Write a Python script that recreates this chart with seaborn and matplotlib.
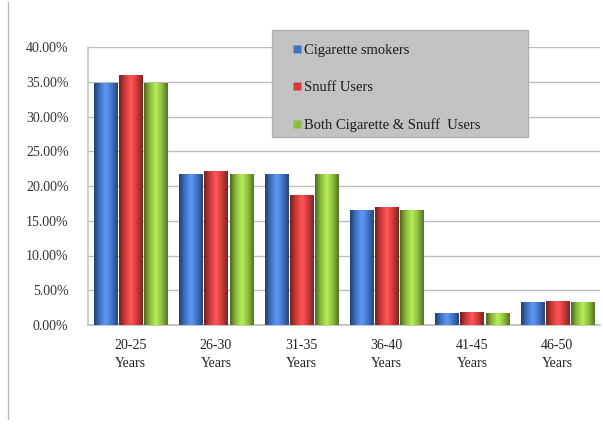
import numpy as np
import pandas as pd
import matplotlib
matplotlib.use("Agg")
import matplotlib.pyplot as plt
import seaborn as sns
from matplotlib.colors import LinearSegmentedColormap, to_rgb
from matplotlib.lines import Line2D
from matplotlib.patches import Rectangle

age_groups = ["20-25\nYears", "26-30\nYears", "31-35\nYears", "36-40\nYears", "41-45\nYears", "46-50\nYears"]
series_names = ["Cigarette smokers", "Snuff Users", "Both Cigarette & Snuff  Users"]
cigarette = [34.8, 21.7, 21.7, 16.5, 1.7, 3.3]
snuff = [36.0, 22.2, 18.7, 17.0, 1.8, 3.4]
both = [34.8, 21.7, 21.7, 16.5, 1.7, 3.3]
y_ticks = [0, 5, 10, 15, 20, 25, 30, 35, 40]

colors = ["#3f73c6", "#cf3a3a", "#8dbd3c"]

df = pd.DataFrame({
    "group": age_groups * 3,
    "series": sum([[s] * len(age_groups) for s in series_names], []),
    "value": [v / 100 for v in cigarette + snuff + both],
})

sns.set_theme(style="white")
plt.rcParams["font.family"] = ["Liberation Serif", "DejaVu Serif"]

W, H = 603, 429
fig = plt.figure(figsize=(W / 100, H / 100), dpi=100)
ax = fig.add_axes([88 / W, (H - 325) / H, 512 / W, (325 - 47) / H])

sns.barplot(data=df, x="group", y="value", hue="series", palette=colors,
            width=0.88, gap=0.08, saturation=1, ax=ax, legend=False,
            edgecolor="none", zorder=3)

# cylinder-like horizontal shading on every bar
for patch in ax.patches:
    x0, y0 = patch.get_x(), patch.get_y()
    w, h = patch.get_width(), patch.get_height()
    if h <= 0:
        continue
    base = np.array(to_rgb(patch.get_facecolor()))
    dark = base * 0.55
    light = np.clip(base * 1.15 + 0.08, 0, 1)
    cmap = LinearSegmentedColormap.from_list(
        "cyl", [dark, base, light, base, dark * 1.1], N=64)
    grad = np.linspace(0, 1, 64).reshape(1, -1)
    im = ax.imshow(grad, cmap=cmap, aspect="auto",
                   extent=[x0, x0 + w, y0, y0 + h], zorder=4)
    im.set_clip_path(patch)

ax.set_xlim(-0.5, len(age_groups) - 0.5)
ax.set_ylim(0, 0.40)
ax.set_yticks([t / 100 for t in y_ticks])
ax.set_yticklabels([f"{t:.2f}%" for t in y_ticks], fontsize=10, color="#333333")
ax.tick_params(axis="x", labelsize=10, labelcolor="#222222", length=0, pad=10)
ax.tick_params(axis="y", length=0, pad=14)
for lbl in ax.get_xticklabels():
    lbl.set_linespacing(1.5)
ax.set_xlabel("")
ax.set_ylabel("")

ax.grid(axis="y", color="#bdbdbd", linewidth=1.0, zorder=0)
ax.set_axisbelow(True)
for side in ["top", "right"]:
    ax.spines[side].set_visible(False)
ax.spines["left"].set_color("#c8c8c8")
ax.spines["bottom"].set_color("#bdbdbd")

# grey legend panel
fig.add_artist(Rectangle((272 / W, 1 - 137 / H), (528 - 272) / W, (137 - 30) / H,
                         transform=fig.transFigure, facecolor="#c2c2c2",
                         edgecolor="#b0b0b0", linewidth=1.0, zorder=9))
handles = [Line2D([0], [0], marker="s", linestyle="", markersize=5.5,
                  markerfacecolor=c, markeredgecolor="none") for c in colors]
leg = fig.legend(handles, series_names, loc="upper left",
                 bbox_to_anchor=(293 / W, 1 - 44 / H),
                 frameon=False, fontsize=10.5, labelspacing=1.65,
                 handlelength=0.6, handletextpad=0.15, borderpad=0,
                 borderaxespad=0)
leg.set_zorder(10)
for t in leg.get_texts():
    t.set_color("#1a1a1a")

# page frame line at the left
fig.add_artist(Line2D([8 / W, 8 / W], [10 / H, 1 - 2 / H],
                      color="#b8b8b8", linewidth=1.0))

fig.savefig("out.png", dpi=100, facecolor="white")
